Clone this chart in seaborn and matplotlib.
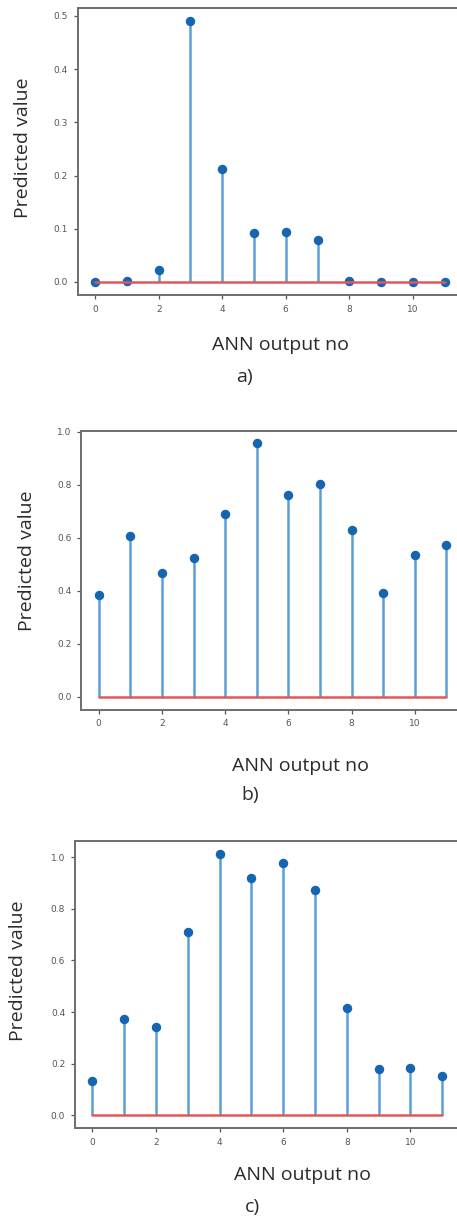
import numpy as np
import matplotlib
matplotlib.use("Agg")
import matplotlib.pyplot as plt
import seaborn as sns

# ANN output index and predicted values for the three cases
outputs = list(range(12))
pred_a = [0.000, 0.001, 0.022, 0.490, 0.213, 0.092, 0.094, 0.079, 0.001, 0.000, 0.000, 0.000]
pred_b = [0.385, 0.608, 0.466, 0.524, 0.690, 0.956, 0.762, 0.802, 0.630, 0.392, 0.536, 0.574]
pred_c = [0.133, 0.372, 0.342, 0.710, 1.012, 0.920, 0.978, 0.873, 0.414, 0.180, 0.183, 0.153]
panel_tags = ["a)", "b)", "c)"]

sns.set_style("ticks")
plt.rcParams["font.family"] = ["Open Sans", "DejaVu Sans"]

fig = plt.figure(figsize=(4.57, 12.16), dpi=100)

# axes boxes [left, bottom, width, height] in figure fraction
boxes = [
    [0.170, 0.7574, 0.841, 0.2358],
    [0.178, 0.4164, 0.837, 0.2294],
    [0.164, 0.0721, 0.842, 0.2363],
]
# text anchor points in pixels from the top-left corner
ylabel_pos = [(23, 148), (27, 561), (18, 971)]
xlabel_pos = [(281, 345), (300, 766), (303, 1175)]
tag_pos = [(244, 377), (250, 795), (252, 1207)]

stem_col = "#5a9fd6"
dot_col = "#1565b0"
base_col = "#e0585c"
spine_col = "#6e6e6e"
text_col = "#2b2b2b"

W, H = 457.0, 1216.0

for i, (box, vals) in enumerate(zip(boxes, [pred_a, pred_b, pred_c])):
    ax = fig.add_axes(box)
    markers, stems, base = ax.stem(outputs, vals, linefmt="-", markerfmt="o", basefmt="-")
    plt.setp(stems, color=stem_col, linewidth=1.8)
    plt.setp(markers, color=dot_col, markersize=5.8)
    plt.setp(base, color=base_col, linewidth=1.8)
    ax.set_xticks([0, 2, 4, 6, 8, 10])
    for s in ax.spines.values():
        s.set_color(spine_col)
        s.set_linewidth(1.4)
    ax.tick_params(axis="both", labelsize=6.5, colors="#555555", length=3, width=0.9, pad=4)
    for lab in ax.get_xticklabels() + ax.get_yticklabels():
        lab.set_family("DejaVu Sans")
    fig.text(ylabel_pos[i][0] / W, 1 - ylabel_pos[i][1] / H, "Predicted value",
             rotation=90, ha="center", va="center", fontsize=14, color=text_col)
    fig.text(xlabel_pos[i][0] / W, 1 - xlabel_pos[i][1] / H, "ANN output no",
             ha="center", va="center", fontsize=14, color=text_col)
    fig.text(tag_pos[i][0] / W, 1 - tag_pos[i][1] / H, panel_tags[i],
             ha="center", va="center", fontsize=14, color=text_col)

fig.savefig("out.png", dpi=100)
